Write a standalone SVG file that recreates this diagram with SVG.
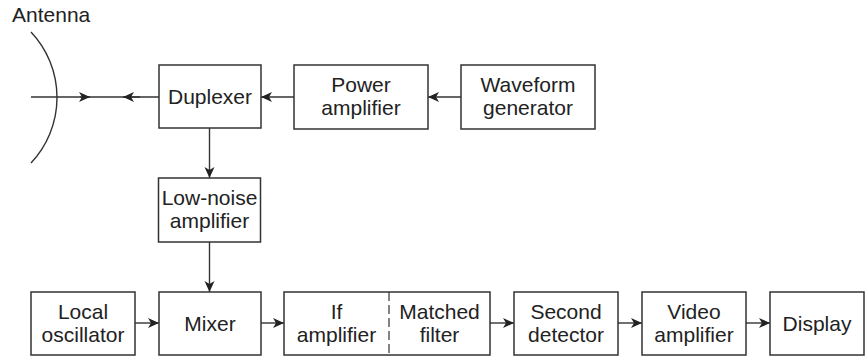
<svg xmlns="http://www.w3.org/2000/svg" width="865" height="356" viewBox="0 0 865 356">
<defs>
<marker id="ah" markerUnits="userSpaceOnUse" markerWidth="14" markerHeight="12" viewBox="-12 -6 14 12" refX="0" refY="0" orient="auto">
<path d="M0,0 L-11,-5 L-8,0 L-11,5 Z" fill="#222"/>
</marker>
</defs>
<style>
rect{fill:#fff;stroke:#333;stroke-width:1.5}
text{font-family:"Liberation Sans",Arial,sans-serif;font-size:21px;fill:#222;text-anchor:middle}
.c{fill:none;stroke:#333;stroke-width:1.4}
.a{marker-end:url(#ah)}
</style>
<rect x="0" y="0" width="865" height="356" style="fill:#fff;stroke:none"/>
<g id="antenna">
<path class="c" d="M31,32 A95.5,95.5 0 0 1 31,163"/>
<text x="12" y="22" style="text-anchor:start">Antenna</text>
</g>
<g id="connectors">
<path class="c" d="M31,97 L159,97"/>
<path class="c" d="M80,97 L90,97" style="marker-end:url(#ah)"/>
<path class="c" d="M140,97 L123,97" style="marker-end:url(#ah)"/>
<path class="c a" d="M294,97 L261,97"/>
<path class="c a" d="M461,97 L428,97"/>
<path class="c a" d="M209.5,128 L209.5,178"/>
<path class="c a" d="M209.5,242 L209.5,292"/>
<path class="c a" d="M135,323 L159,323"/>
<path class="c a" d="M261,323 L284,323"/>
<path class="c a" d="M490,323 L514,323"/>
<path class="c a" d="M618,323 L642,323"/>
<path class="c a" d="M746,323 L770,323"/>
</g>
<g id="duplexer">
<rect x="159" y="65" width="102" height="63"/>
<text x="210" y="104">Duplexer</text>
</g>
<g id="power-amplifier">
<rect x="294" y="65" width="134" height="64"/>
<text x="361" y="92">Power</text>
<text x="361" y="115">amplifier</text>
</g>
<g id="waveform-generator">
<rect x="461" y="65" width="134" height="64"/>
<text x="528" y="92">Waveform</text>
<text x="528" y="115">generator</text>
</g>
<g id="low-noise-amplifier">
<rect x="158.5" y="178" width="102" height="64"/>
<text x="209.5" y="205">Low-noise</text>
<text x="209.5" y="228">amplifier</text>
</g>
<g id="local-oscillator">
<rect x="31" y="292" width="104" height="63"/>
<text x="83" y="319">Local</text>
<text x="83" y="342">oscillator</text>
</g>
<g id="mixer">
<rect x="159" y="292" width="102" height="63"/>
<text x="210" y="331">Mixer</text>
</g>
<g id="if-matched">
<rect x="284" y="292" width="206" height="63"/>
<path d="M389,292 L389,355" style="fill:none;stroke:#333;stroke-width:1.2;stroke-dasharray:9 4"/>
<text x="336.5" y="319">If</text>
<text x="336.5" y="342">amplifier</text>
<text x="439.5" y="319">Matched</text>
<text x="439.5" y="342">filter</text>
</g>
<g id="second-detector">
<rect x="514" y="292" width="104" height="63"/>
<text x="566" y="319">Second</text>
<text x="566" y="342">detector</text>
</g>
<g id="video-amplifier">
<rect x="642" y="292" width="104" height="63"/>
<text x="694" y="319">Video</text>
<text x="694" y="342">amplifier</text>
</g>
<g id="display">
<rect x="770" y="292" width="94" height="63"/>
<text x="817" y="331">Display</text>
</g>
</svg>
